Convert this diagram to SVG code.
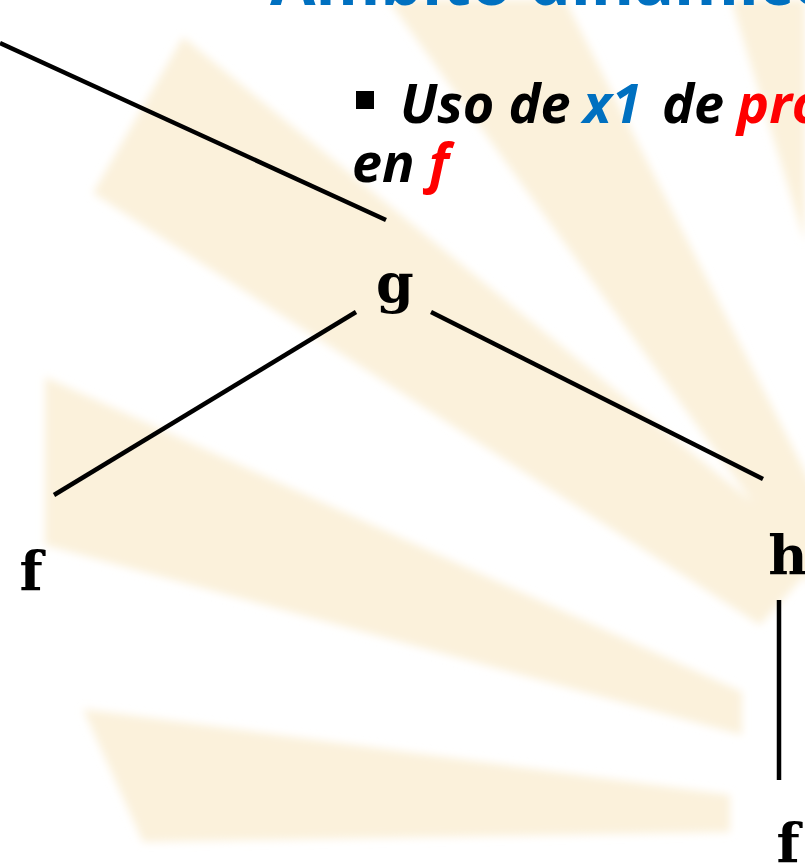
<svg xmlns="http://www.w3.org/2000/svg" width="805" height="864" viewBox="0 0 805 864">
<defs>
<filter id="soft" x="-10%" y="-10%" width="120%" height="120%"><feGaussianBlur stdDeviation="4"/></filter>
<style>
.ray{fill:#FBF1DB}
.edge{stroke:#000;stroke-width:4.5;fill:none}
.lbl{font-family:"DejaVu Serif","Liberation Serif",serif;font-weight:bold;font-size:54px;fill:#000;text-anchor:middle}
.txt{font-family:"Open Sans","Noto Sans",sans-serif;font-weight:bold;font-style:italic;font-size:54px;fill:#000}
.title{font-family:"Open Sans","Noto Sans",sans-serif;font-weight:bold;font-size:66px;fill:#0070C0}
</style>
</defs>
<rect width="805" height="864" fill="#ffffff"/>
<g id="background" filter="url(#soft)">
<polygon class="ray" points="183,37 93,193 760,625 805,575 805,545"/>
<polygon class="ray" points="45,377 45,545 742,735 742,692"/>
<polygon class="ray" points="83,709 143,842 730,832 730,795"/>
<polygon class="ray" points="388,0 565,0 853,566 815,588"/>
<polygon class="ray" points="731,0 805,0 805,242"/>
</g>
<text class="title" x="270" y="5">Ámbito dinámico</text>
<g id="bullet">
<rect x="356" y="91" width="18" height="18" fill="#000"/>
<text class="txt" x="400" y="123">Uso de <tspan x="583" fill="#0070C0">x1</tspan><tspan x="662">de</tspan><tspan x="737" fill="#FF0000">pro</tspan></text>
<text class="txt" x="352" y="182">en <tspan fill="#FF0000">f</tspan></text>
</g>
<g id="connectors" class="edge">
<line x1="0" y1="43" x2="386" y2="220"/>
<line x1="356" y1="312" x2="54" y2="495"/>
<line x1="431" y1="312" x2="763" y2="479"/>
<line x1="779" y1="600" x2="779" y2="780"/>
</g>
<g id="node-g"><text class="lbl" x="395" y="302">g</text></g>
<g id="node-f1"><text class="lbl" x="31" y="590">f</text></g>
<g id="node-h"><text class="lbl" x="788" y="574">h</text></g>
<g id="node-f2"><text class="lbl" x="788" y="862">f</text></g>
</svg>
